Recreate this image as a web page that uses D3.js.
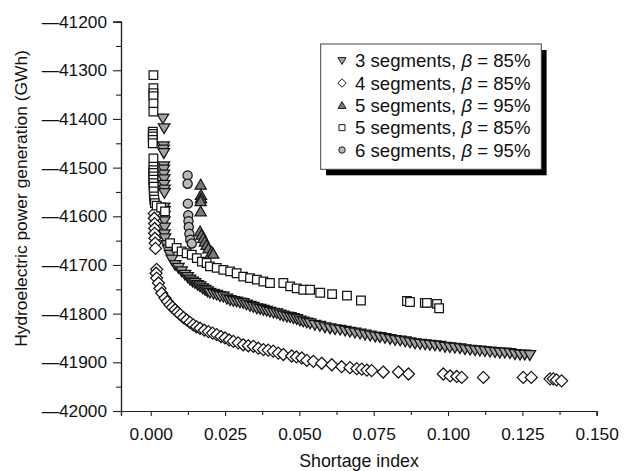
<!DOCTYPE html>
<html><head><meta charset="utf-8">
<script src="https://cdn.jsdelivr.net/npm/d3@7"></script>
<style>
html,body{margin:0;padding:0;background:#fff;}
svg text{font-family:"Liberation Sans",Arial,Helvetica,sans-serif;fill:#111;}
</style></head>
<body><svg id="chart" width="633" height="471"></svg>
<script>
// ---------- data ----------
const xTickValues = [0, 0.025, 0.05, 0.075, 0.1, 0.125, 0.15];
const xTickLabels = ["0.000","0.025","0.050","0.075","0.100","0.125","0.150"];
const yTickValues = [-42000,-41900,-41800,-41700,-41600,-41500,-41400,-41300,-41200];
const yTickLabels = ["\u201442000","\u201441900","\u201441800","\u201441700","\u201441600","\u201441500","\u201441400","\u201441300","\u201441200"];
const seriesNames = ["3 segments, ", "4 segments, ", "5 segments, ", "5 segments, ", "6 segments, "];
const seriesBeta = ["85%", "85%", "95%", "85%", "95%"];

// 3 segments, beta = 85% (down triangles)
const seg3b85 = [[0.0041,-41399],[0.0045,-41419],[0.0043,-41456],[0.0043,-41463],[0.0044,-41470],[0.0044,-41497],[0.0044,-41504],[0.0044,-41514],[0.0045,-41524],[0.0045,-41535],[0.0046,-41545],[0.0046,-41552],[0.0045,-41582],[0.0046,-41589],[0.0046,-41599],[0.0046,-41610],[0.0047,-41623],[0.0046,-41637],
[0.0048,-41645],[0.0054,-41659],[0.0059,-41669],[0.0065,-41679],[0.0071,-41689],[0.0082,-41700],[0.0093,-41706],[0.0104,-41713],[0.0115,-41720],[0.0124,-41725],[0.0132,-41730],[0.0141,-41734],[0.0149,-41737],[0.0158,-41741],[0.0166,-41744],[0.0175,-41748],[0.0183,-41751],[0.0191,-41754],[0.0199,-41757],[0.0211,-41759],[0.0222,-41761],[0.0233,-41764],[0.0244,-41765],[0.0256,-41769],[0.0267,-41772],[0.0278,-41774],[0.0289,-41775],[0.0300,-41777],[0.0311,-41778],[0.0322,-41781],[0.0334,-41784],[0.0345,-41786],[0.0357,-41789],[0.0368,-41790],[0.0379,-41792],[0.0390,-41794],[0.0401,-41796],[0.0413,-41798],[0.0424,-41799],[0.0435,-41802],[0.0446,-41804],[0.0458,-41806],[0.0469,-41807],[0.0480,-41809],[0.0491,-41811],[0.0502,-41814],[0.0513,-41816],[0.0525,-41818],[0.0536,-41820],[0.0552,-41823],[0.0569,-41825],[0.0586,-41828],[0.0603,-41830],[0.0620,-41832],[0.0637,-41833],[0.0654,-41835],[0.0670,-41837],[0.0687,-41839],[0.0704,-41841],[0.0721,-41843],[0.0738,-41845],[0.0755,-41847],[0.0771,-41848],[0.0788,-41850],[0.0805,-41852],[0.0822,-41854],[0.0839,-41855],[0.0856,-41857],[0.0872,-41859],[0.0889,-41861],[0.0906,-41862],[0.0923,-41863],[0.0939,-41864],[0.0956,-41865],[0.0973,-41866],[0.0990,-41868],[0.1006,-41869],[0.1023,-41870],[0.1040,-41871],[0.1057,-41873],[0.1074,-41874],[0.1091,-41875],[0.1107,-41876],[0.1124,-41877],[0.1141,-41878],[0.1158,-41879],[0.1174,-41880],[0.1191,-41880],[0.1208,-41881],[0.1225,-41883],[0.1242,-41884],[0.1258,-41884],[0.1275,-41885]];

// 4 segments, beta = 85% (diamonds)
const seg4b85 = [[0.0012,-41594],[0.0012,-41604],[0.0013,-41615],[0.0013,-41625],[0.0013,-41635],[0.0014,-41645],[0.0015,-41655],[0.0016,-41666],
[0.0020,-41709],[0.0018,-41717],[0.0020,-41727],[0.0026,-41737],[0.0031,-41748],[0.0037,-41758],[0.0048,-41768],[0.0056,-41775],[0.0065,-41782],[0.0073,-41787],[0.0082,-41792],[0.0090,-41797],[0.0099,-41802],[0.0110,-41808],[0.0121,-41813],[0.0132,-41818],[0.0143,-41823],[0.0154,-41827],[0.0166,-41830],[0.0180,-41834],[0.0194,-41837],[0.0208,-41840],[0.0222,-41843],[0.0236,-41847],[0.0250,-41850],[0.0264,-41854],[0.0278,-41857],[0.0294,-41860],[0.0311,-41864],[0.0328,-41866],[0.0345,-41867],[0.0362,-41871],[0.0379,-41874],[0.0395,-41875],[0.0412,-41877],[0.0429,-41881],[0.0446,-41884],[0.0474,-41887],[0.0490,-41889],[0.0508,-41891],[0.0525,-41896],[0.0547,-41898],[0.0575,-41902],[0.0609,-41905],[0.0642,-41909],[0.0670,-41911],[0.0693,-41913],[0.0710,-41914],[0.0727,-41916],[0.0743,-41917],[0.0782,-41920],[0.0833,-41920],[0.0867,-41924],[0.0984,-41924],[0.1007,-41928],[0.1029,-41929],[0.1046,-41931],[0.1119,-41931],[0.1253,-41931],[0.1280,-41931],[0.1343,-41934],[0.1354,-41934],[0.1365,-41936],[0.1382,-41938]];

// 5 segments, beta = 95% (up triangles)
const seg5b95 = [[0.0168,-41535],[0.0169,-41556],[0.0169,-41563],[0.0168,-41569],[0.0168,-41590],[0.0166,-41631],[0.0171,-41638],[0.0177,-41645],[0.0182,-41652],[0.0188,-41659],[0.0194,-41666],[0.0205,-41673],[0.0210,-41677]];

// 5 segments, beta = 85% (squares)
const seg5b85 = [[0.0009,-41310],[0.0009,-41337],[0.0009,-41347],[0.0009,-41353],[0.0009,-41368],[0.0009,-41385],[0.0007,-41426],[0.0007,-41431],[0.0007,-41436],[0.0007,-41443],[0.0007,-41450],[0.0009,-41481],[0.0009,-41498],[0.0009,-41505],[0.0009,-41511],[0.0009,-41518],[0.0009,-41525],[0.0009,-41532],[0.0010,-41539],[0.0010,-41549],[0.0011,-41559],[0.0012,-41566],[0.0014,-41573],[0.0020,-41578],[0.0035,-41582],[0.0048,-41590],
[0.0065,-41655],[0.0087,-41665],[0.0104,-41672],[0.0121,-41676],[0.0138,-41679],[0.0155,-41686],[0.0172,-41693],[0.0188,-41696],[0.0199,-41703],[0.0222,-41706],[0.0244,-41710],[0.0267,-41713],[0.0289,-41717],[0.0311,-41724],[0.0334,-41727],[0.0357,-41730],[0.0379,-41734],[0.0401,-41737],[0.0446,-41737],[0.0469,-41744],[0.0491,-41748],[0.0513,-41751],[0.0536,-41751],[0.0570,-41757],[0.0610,-41760],[0.0660,-41763],[0.0707,-41773],[0.0862,-41774],[0.0872,-41776],[0.0922,-41778],[0.0929,-41778],[0.0963,-41780],[0.0970,-41789]];

// 6 segments, beta = 95% (circles)
const seg6b95 = [[0.0124,-41516],[0.0124,-41533],[0.0125,-41574],[0.0126,-41598],[0.0127,-41610],[0.0128,-41622],[0.0130,-41636],[0.0133,-41648],[0.0138,-41656]];

// ---------- drawing ----------
const svg = d3.select("#chart");
const x = d3.scaleLinear().domain([-0.01, 0.15]).range([121, 596.7]);
const y = d3.scaleLinear().domain([-42000, -41200]).range([411, 21.6]);

const shapes = {
  down: s => `M${-5.8*s},${-4.4*s}L${5.8*s},${-4.4*s}L0,${5.4*s}Z`,
  up: s => `M${-5.6*s},${4.4*s}L${5.6*s},${4.4*s}L0,${-5.4*s}Z`,
  diamond: s => `M0,${-6*s}L${6*s},0L0,${6*s}L${-6*s},0Z`,
  square: s => `M${-4.3*s},${-4.3*s}h${8.6*s}v${8.6*s}h${-8.6*s}Z`,
  circle: s => `M${4.6*s},0A${4.6*s},${4.6*s} 0 1,1 ${-4.6*s},0A${4.6*s},${4.6*s} 0 1,1 ${4.6*s},0Z`
};
const series = [
  {data: seg3b85, shape: "down", fill: "#a3a3a3"},
  {data: seg4b85, shape: "diamond", fill: "#ffffff"},
  {data: seg5b95, shape: "up", fill: "#7a7a7a"},
  {data: seg5b85, shape: "square", fill: "#ffffff"},
  {data: seg6b95, shape: "circle", fill: "#b8b8b8"}
];

// axes
const gx = svg.append("g").attr("transform", "translate(0,411)");
gx.call(d3.axisBottom(x).tickValues(xTickValues).tickFormat((d,i)=>xTickLabels[i]).tickSize(5).tickPadding(12));
gx.append("g").call(d3.axisBottom(x).tickValues(xTickValues.slice(0,-1).map(v=>v+0.0125)).tickFormat("").tickSize(4));
const gy = svg.append("g").attr("transform", "translate(121,0)");
gy.call(d3.axisLeft(y).tickValues(yTickValues).tickFormat((d,i)=>yTickLabels[i]).tickSize(8).tickPadding(6));
gy.append("g").call(d3.axisLeft(y).tickValues(yTickValues.slice(0,-1).map(v=>v+50)).tickFormat("").tickSize(5));
svg.selectAll(".domain").attr("stroke","#222").attr("stroke-width",1.2);
svg.selectAll(".tick line").attr("stroke","#222").attr("stroke-width",1.1);
svg.selectAll(".tick text").style("font-size","17.3px").attr("fill","#111");
gx.selectAll(".tick text").attr("dy","0.72em");

// axis titles
svg.append("text").attr("x", 359).attr("y", 467).attr("text-anchor","middle").style("font-size","17.8px").text("Shortage index");
svg.append("text").attr("transform","translate(27,198.5) rotate(-90)").attr("text-anchor","middle").style("font-size","17.4px").text("Hydroelectric power generation (GWh)");

// points
series.forEach(s => {
  svg.append("g").selectAll("path").data(s.data).join("path")
    .attr("transform", d => `translate(${x(d[0])},${y(d[1])})`)
    .attr("d", shapes[s.shape](1))
    .attr("fill", s.fill).attr("stroke", "#151515").attr("stroke-width", 1.25);
});

// legend
const lg = svg.append("g");
lg.append("rect").attr("x", 326).attr("y", 50).attr("width", 220.6).attr("height", 125.3).attr("fill", "#000");
lg.append("rect").attr("x", 320.7).attr("y", 44).attr("width", 220.6).attr("height", 125.3).attr("fill", "#fff").attr("stroke", "#444").attr("stroke-width", 1);
const rowY = d3.scaleLinear().domain([0, 4]).range([60.7, 150]);
series.forEach((s, i) => {
  lg.append("path").attr("transform", `translate(342,${rowY(i)})`).attr("d", shapes[s.shape](0.7))
    .attr("fill", s.fill).attr("stroke", "#1a1a1a").attr("stroke-width", 1);
  const t = lg.append("text").attr("x", 355).attr("y", rowY(i)).attr("dy", "0.36em").style("font-size", "18.6px");
  t.append("tspan").text(seriesNames[i]);
  t.append("tspan").style("font-style", "italic").text("\u03b2");
  t.append("tspan").text(" = " + seriesBeta[i]);
});
</script></body></html>
